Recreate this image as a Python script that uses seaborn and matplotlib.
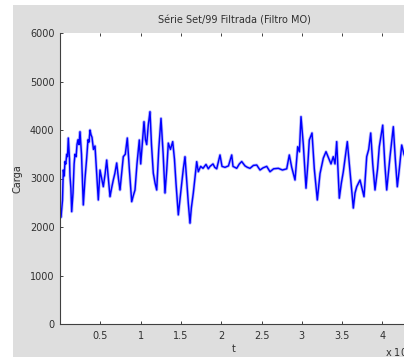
import matplotlib
matplotlib.use("Agg")
import matplotlib.pyplot as plt
from matplotlib.patches import Rectangle
from matplotlib.ticker import FuncFormatter, FixedLocator
import seaborn as sns
import pandas as pd

# Filtered load series (Set/99), time index in samples
t = [
    1, 124, 310, 409, 520, 620, 720, 831, 930, 1030,
    1179, 1241, 1350, 1452, 1613, 1750, 1861, 2000, 2109, 2233,
    2360, 2481, 2668, 2891, 3102, 3300, 3474, 3600, 3722, 3850,
    3970, 4150, 4342, 4550, 4752, 4963, 5170, 5372, 5600, 5794,
    6000, 6204, 6400, 6613, 6800, 7035, 7250, 7444, 7650, 7854,
    8100, 8350, 8600, 8896, 9100, 9305, 9550, 9839, 10013, 10200,
    10422, 10600, 10757, 10950, 11166, 11350, 11576, 11800, 11998, 12250,
    12531, 12800, 13027, 13250, 13437, 13700, 13983, 14200, 14392, 14678,
    14900, 15100, 15300, 15509, 15700, 15918, 16129, 16300, 16539, 16961,
    17159, 17450, 17742, 18114, 18400, 18610, 18983, 19200, 19442, 19851,
    20099, 20472, 20900, 21303, 21464, 21923, 22250, 22544, 22953, 23250,
    23573, 24000, 24404, 24814, 25200, 25645, 26055, 26500, 27085, 27600,
    28127, 28450, 28747, 29157, 29492, 29700, 29901, 30187, 30521, 30750,
    30931, 31266, 31551, 31924, 32258, 32668, 33003, 33251, 33623, 33900,
    34119, 34330, 34652, 34900, 35149, 35645, 35980, 36390, 36600, 36812,
    37221, 37717, 38052, 38300, 38548, 38800, 39082, 39400, 39615, 40038,
    40300, 40534, 40943, 41353, 41600, 41849, 42100, 42395, 42680, 43176,
]
carga = [
    2450, 2200, 2550, 3175, 3050, 3350, 3300, 3500, 3450, 3835,
    3400, 3050, 2800, 2316, 2700, 3300, 3500, 3450, 3700, 3800,
    3700, 3965, 3500, 2454, 3000, 3400, 3800, 3750, 4000, 3900,
    3850, 3600, 3670, 3100, 2557, 3175, 3000, 2831, 3100, 3381,
    3000, 2625, 2800, 2970, 3100, 3320, 3000, 2763, 3100, 3450,
    3500, 3835, 3200, 2522, 2650, 2763, 3300, 3794, 3300, 3700,
    4172, 3800, 3700, 4100, 4378, 3700, 3110, 2900, 2763, 3600,
    4240, 3500, 2700, 3200, 3730, 3600, 3760, 3400, 2900, 2250,
    2600, 2900, 3200, 3450, 3000, 2490, 2078, 2400, 2700, 3347,
    3140, 3250, 3210, 3290, 3200, 3250, 3300, 3230, 3200, 3485,
    3250, 3230, 3260, 3485, 3250, 3210, 3300, 3350, 3260, 3230,
    3210, 3270, 3278, 3175, 3220, 3250, 3140, 3200, 3210, 3175,
    3200, 3485, 3230, 2969, 3656, 3550, 4275, 3700, 2800, 3300,
    3794, 3938, 3200, 2557, 3100, 3420, 3553, 3450, 3300, 3450,
    3300, 3760, 2594, 2900, 3140, 3760, 3140, 2390, 2700, 2830,
    2969, 2625, 3450, 3600, 3938, 3300, 2763, 3200, 3656, 4100,
    3300, 2763, 3450, 4068, 3400, 2830, 3200, 3690, 3500, 3300,
]

yticks = [0, 1000, 2000, 3000, 4000, 5000, 6000]
xticks = [5000, 10000, 15000, 20000, 25000, 30000, 35000, 40000]

W, H = 404, 357
sns.set_theme(style="white")
plt.rcParams["font.family"] = ["DejaVu Sans"]
plt.rcParams["font.size"] = 7

fig = plt.figure(figsize=(W / 100, H / 100), dpi=100, facecolor="white")
# grey window panel behind the axes
fig.patches.append(Rectangle((13 / W, 0), 1, 1 - 5 / H, transform=fig.transFigure,
                             facecolor="#dedede", edgecolor="none", zorder=-5))

ax = fig.add_axes([60 / W, 33 / H, 348.2 / W, 291 / H])
ax.set_zorder(2)
ax.set_facecolor("white")

df = pd.DataFrame({"t": t, "Carga": carga})
sns.lineplot(data=df, x="t", y="Carga", ax=ax, estimator=None, sort=False,
             color="#6a6aff", linewidth=2.2, alpha=0.45)
sns.lineplot(data=df, x="t", y="Carga", ax=ax, estimator=None, sort=False,
             color="#0000ff", linewidth=1.05)

ax.set_xlim(0, 43200)
ax.set_ylim(0, 6000)
ax.xaxis.set_major_locator(FixedLocator(xticks))
ax.yaxis.set_major_locator(FixedLocator(yticks))
ax.xaxis.set_major_formatter(FuncFormatter(lambda v, p: f"{v / 1e4:g}"))
ax.yaxis.set_major_formatter(FuncFormatter(lambda v, p: f"{v:.0f}"))

for side in ["top", "right"]:
    ax.spines[side].set_visible(False)
for side in ["left", "bottom"]:
    ax.spines[side].set_color("#404040")
    ax.spines[side].set_linewidth(0.8)

ax.tick_params(axis="x", which="both", direction="in", length=2.5, width=0.7,
               color="#404040", top=True, bottom=True, pad=5, labelsize=7,
               labelcolor="#303030")
ax.tick_params(axis="y", which="both", direction="in", length=2.5, width=0.7,
               color="#404040", left=True, pad=4, labelsize=7, labelcolor="#303030")

ax.set_title("Série Set/99 Filtrada (Filtro MO)", fontsize=7, pad=7, color="#303030")
ax.set_xlabel("t", fontsize=7, labelpad=2, color="#303030")
ax.set_ylabel("Carga", fontsize=7, labelpad=5, color="#303030")
fig.text(385 / W, 1 - 352 / H, r"x 10$^4$", fontsize=7, va="center", ha="left",
         color="#303030")

fig.savefig("out.png", dpi=100, facecolor="white")
